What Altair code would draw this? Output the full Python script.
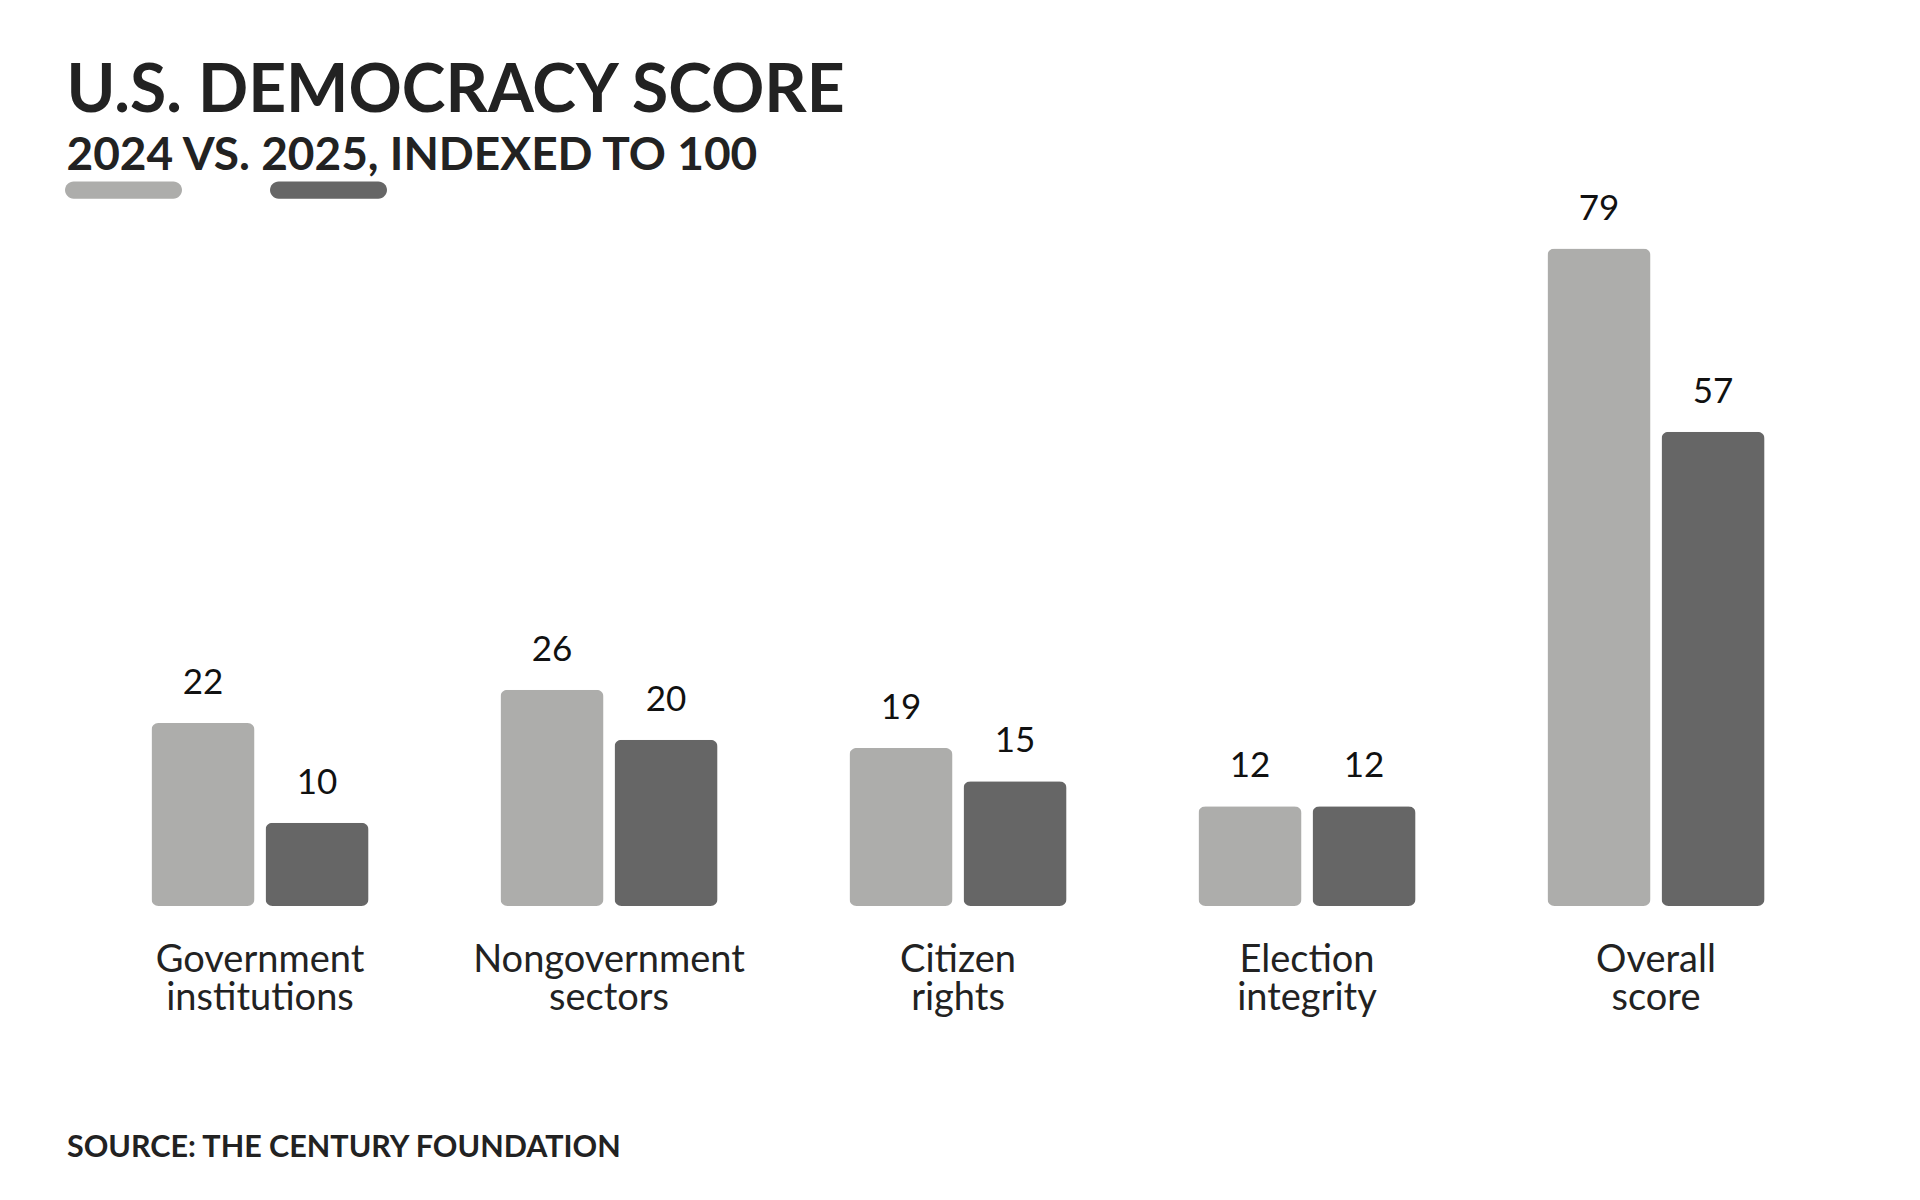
import altair as alt
import pandas as pd

# ---- data ----
categories = ["Government institutions", "Nongovernment sectors", "Citizen rights",
              "Election integrity", "Overall score"]
years = ["2024", "2025"]
score_2024 = [22, 26, 19, 12, 79]
score_2025 = [10, 20, 15, 12, 57]
colors = ["#adadab", "#666666"]
title_text = "U.S. DEMOCRACY SCORE"
subtitle_text = "2024 VS. 2025, INDEXED TO 100"
source_text = "SOURCE: THE CENTURY FOUNDATION"

rows = []
for c, a, b in zip(categories, score_2024, score_2025):
    rows.append({"category": c, "year": years[0], "score": a})
    rows.append({"category": c, "year": years[1], "score": b})
df = pd.DataFrame(rows)
cat_df = pd.DataFrame({"category": categories})
src_df = pd.DataFrame({"t": [source_text]})

W, H = 1745, 657.5
PL, PT = 77.5, 240.6
PR = 1904 - W - PL
PB = 1184 - H - PT

x = alt.X("category:N", sort=categories, axis=None,
          scale=alt.Scale(paddingInner=0.378, paddingOuter=0.189))
xo = alt.XOffset("year:N", sort=years,
                 scale=alt.Scale(paddingInner=0.0965, paddingOuter=0))
y = alt.Y("score:Q", axis=None,
          scale=alt.Scale(domain=[0, 79], nice=False, zero=True))

pill = ("M -0.852,-0.148 L 0.852,-0.148 A 0.148,0.148 0 0 1 0.852,0.148 "
        "L -0.852,0.148 A 0.148,0.148 0 0 1 -0.852,-0.148 Z")

color = alt.Color(
    "year:N",
    scale=alt.Scale(domain=years, range=colors),
    legend=alt.Legend(
        orient="none", legendX=-20.5, legendY=-117.4, direction="horizontal",
        title=None, symbolType=pill, symbolSize=13689, symbolStrokeWidth=0,
        symbolOpacity=1, labelExpr="''", labelFontSize=1, labelOffset=0,
        columnPadding=88, padding=0, offset=0,
    ),
)

bars = alt.Chart(df).mark_bar(cornerRadius=7).encode(
    x=x, xOffset=xo, y=y, color=color
)

values = alt.Chart(df).mark_text(
    font="Lato", fontSize=35, dy=-29, baseline="alphabetic", color="#111111"
).encode(x=x, xOffset=xo, y=y, text="score:Q")

labels = alt.Chart(cat_df).mark_text(
    font="Lato", fontSize=38, lineBreak=" ", lineHeight=38,
    baseline="alphabetic", color="#222222"
).encode(x=x, y=alt.value(723), text="category:N")

source = alt.Chart(src_df).mark_text(
    font="Lato", fontSize=30.5, fontWeight="bold", align="left",
    baseline="alphabetic", color="#222222"
).encode(x=alt.value(-18.5), y=alt.value(908), text="t:N")

chart = alt.layer(bars, values, labels, source).properties(
    width=W, height=H, background="white",
    title=alt.TitleParams(
        text=title_text, subtitle=subtitle_text, anchor="start", frame="group",
        font="Lato", fontSize=66, fontWeight="bold", color="#222222",
        subtitleFont="Lato", subtitleFontSize=46, subtitleFontWeight="bold",
        subtitleColor="#222222", subtitlePadding=8.5, offset=-49.2, dx=-19,
    ),
    autosize=alt.AutoSizeParams(type="none"),
    padding={"left": PL, "top": PT, "right": PR, "bottom": PB},
).configure_view(stroke=None)

chart.save("out.html", embed_options={"renderer": "svg", "actions": False})
